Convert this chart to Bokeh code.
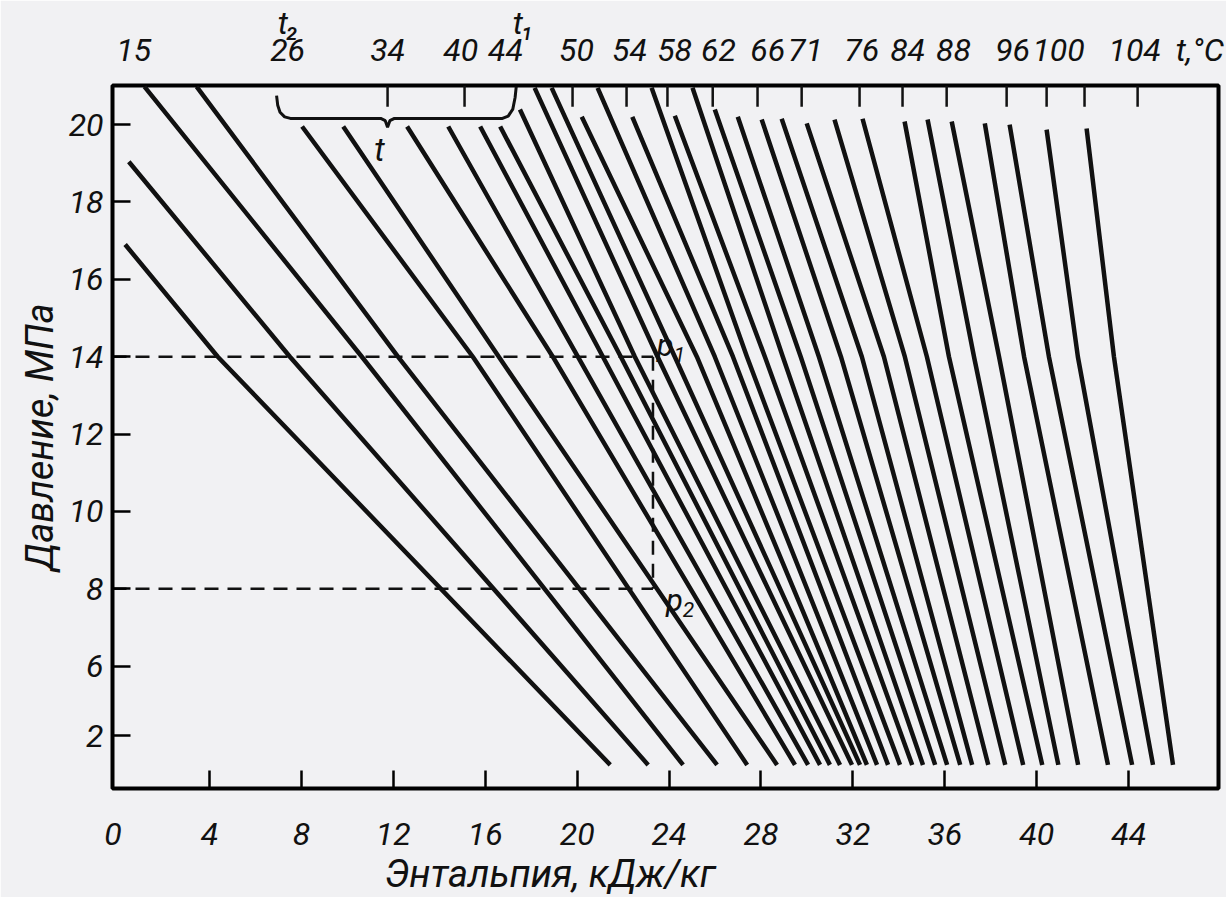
import numpy as np
from bokeh.plotting import figure
from bokeh.models import LinearAxis, FixedTicker, Label, Range1d, Title
from bokeh.embed import file_html
from bokeh.resources import INLINE

# ---------------- data ----------------
# isotherms: enthalpy (kJ/kg) at the upper end, at p = 14 MPa and at the lower end
h_top = [0.33, 0.49, 1.17, 3.44, 8.03, 9.82, 12.6, 14.39, 15.78, 16.65, 17.51,
         18.15, 18.89, 20.2, 20.89, 22.4, 23.24, 24.25, 25.02, 25.99, 26.99,
         28.03, 28.9, 29.99, 31.2, 32.42, 34.25, 35.25, 36.3, 37.74, 38.82,
         40.43, 42.17]
p_top = [16.9, 19.04, 20.98, 20.98, 19.95, 19.95, 19.95, 19.95, 19.95, 19.95,
         20.39, 20.95, 20.95, 20.2, 20.95, 20.2, 20.95, 20.23, 20.95, 20.39,
         20.2, 20.13, 20.15, 20.03, 20.13, 20.15, 20.08, 20.13, 20.08, 20.03,
         20.0, 19.87, 19.9]
h_at_14 = [4.36, 7.5, 10.63, 12.2, 15.46, 16.59, 18.94, 20.03, 21.12, 21.9,
           22.51, 23.5, 24.25, 25.21, 25.99, 26.78, 27.39, 28.17, 28.95, 29.73,
           30.52, 31.48, 32.39, 33.35, 34.26, 35.22, 36.18, 37.27, 38.36, 39.45,
           40.53, 41.79, 43.36]
h_bottom = [21.44, 23.09, 24.61, 26.09, 27.4, 28.7, 29.48, 30.05, 30.57, 31.0,
            31.44, 31.96, 32.31, 32.61, 33.05, 33.53, 34.05, 34.58, 35.05,
            35.58, 36.1, 36.67, 37.19, 37.89, 38.63, 39.41, 40.24, 40.94,
            41.8, 43.1, 44.15, 45.06, 45.93]
p_bottom = [3.45] * len(h_bottom)

# temperature scale along the top edge
temp_labels = ["15", "26", "34", "40", "44", "50", "54", "58", "62", "66",
               "71", "76", "84", "88", "96", "100", "104", "t,°C"]
temp_label_h = [0.70, 7.40, 11.75, 14.93, 16.88, 19.97, 22.28, 24.24, 26.15,
                28.29, 29.94, 32.38, 34.38, 36.38, 38.95, 40.95, 44.26, 47.1]
temp_tick_h = [11.75, 15.1, 19.8, 22.15, 23.93, 25.9, 27.85, 29.77, 32.29,
               34.16, 36.08, 38.69, 40.43, 42.08, 44.39]
t_index_labels = ["t₂", "t₁"]
t_index_h = [7.44, 17.67]

# axes
x_ticks = [-0.2, 4, 8, 12, 16, 20, 24, 28, 32, 36, 40, 44]
x_tick_text = ["0", "4", "8", "12", "16", "20", "24", "28", "32", "36", "40", "44"]
y_ticks = [4.2, 6, 8, 10, 12, 14, 16, 18, 20]
y_tick_text = ["2", "6", "8", "10", "12", "14", "16", "18", "20"]

# example state points
p1 = 14.0
p2 = 8.0
h_point = 23.3

# brace over isotherms t2..t1
brace_t2 = 6.92
brace_t1 = 17.35
brace_mid = 11.75

# ---------------- figure ----------------
X0, X1 = -0.22, 47.91
Y0, Y1 = 2.84, 21.01
BG = "#f1f1f3"
FONT = "Roboto"
INK = "#111111"
TICK_FS = "32px"

p = figure(frame_width=1106, frame_height=703,
           x_range=Range1d(X0, X1), y_range=Range1d(Y0, Y1),
           output_backend="svg", toolbar_location=None,
           min_border_left=112, min_border_top=84, min_border_right=8,
           min_border_bottom=60)
p.background_fill_color = BG
p.border_fill_color = BG
p.outline_line_color = "black"
p.outline_line_width = 4
p.grid.visible = False

# isotherm lines
xs = [[a, m, b] for a, m, b in zip(h_top, h_at_14, h_bottom)]
ys = [[a, 14.0, b] for a, b in zip(p_top, p_bottom)]
p.multi_line(xs=xs, ys=ys, line_color=INK, line_width=4.5, line_join="round")

# dashed construction lines
p.line([X0, h_point], [p1, p1], line_dash="14 9", line_width=2.5, line_color=INK)
p.line([X0, h_point], [p2, p2], line_dash="14 9", line_width=2.5, line_color=INK)
p.line([h_point, h_point], [p1, p2], line_dash="14 9", line_width=2.5, line_color=INK)

# brace
bx = [brace_t2, brace_t2 + 0.05, brace_t2 + 0.15, brace_t2 + 0.35, brace_t2 + 0.6,
      brace_mid - 0.3, brace_mid - 0.1, brace_mid, brace_mid + 0.1, brace_mid + 0.3,
      brace_t1 - 0.6, brace_t1 - 0.35, brace_t1 - 0.15, brace_t1 - 0.05, brace_t1]
by = [20.75, 20.5, 20.32, 20.2, 20.16, 20.16, 20.1, 19.93, 20.1, 20.16,
      20.16, 20.22, 20.4, 20.7, 20.98]
p.line(bx, by, line_width=3, line_color=INK)

# top tick marks of temperature scale
tick_len = 0.55
p.segment(x0=temp_tick_h, y0=[Y1] * len(temp_tick_h), x1=temp_tick_h,
          y1=[Y1 - tick_len] * len(temp_tick_h), line_width=2.5, line_color=INK)

def style_axis(ax, standoff):
    ax.axis_line_color = None
    ax.minor_tick_line_color = None
    ax.major_label_standoff = standoff
    ax.major_label_text_font = FONT
    ax.major_label_text_font_style = "italic"
    ax.major_label_text_font_size = TICK_FS
    ax.major_label_text_color = INK

# bottom axis
xa = p.xaxis[0]
xa.ticker = FixedTicker(ticks=x_ticks)
xa.major_label_overrides = {t: s for t, s in zip(x_ticks, x_tick_text)}
style_axis(xa, 34)
xa.major_tick_in = 18
xa.major_tick_out = 0
xa.major_tick_line_width = 2.5

# left axis
ya = p.yaxis[0]
ya.ticker = FixedTicker(ticks=y_ticks)
ya.major_label_overrides = {t: s for t, s in zip(y_ticks, y_tick_text)}
style_axis(ya, 9)
ya.major_tick_in = 18
ya.major_tick_out = 0
ya.major_tick_line_width = 2.5
ya.axis_label = "Давление, МПа"
ya.axis_label_text_font = FONT
ya.axis_label_text_font_style = "italic"
ya.axis_label_text_font_size = "38px"
ya.axis_label_text_color = INK
ya.axis_label_standoff = 4

# top temperature axis (labels only)
ta = LinearAxis(ticker=FixedTicker(ticks=temp_label_h),
                major_label_overrides={t: s for t, s in zip(temp_label_h, temp_labels)})
style_axis(ta, 17)
ta.major_tick_in = 0
ta.major_tick_out = 0
p.add_layout(ta, "above")

# isotherm indices t2 / t1 above the temperature scale
ti = LinearAxis(ticker=FixedTicker(ticks=t_index_h),
                major_label_overrides={t: s for t, s in zip(t_index_h, t_index_labels)})
style_axis(ti, -14)
ti.major_tick_in = 0
ti.major_tick_out = 0
p.add_layout(ti, "above")

# x axis title (sits left of centre in the original)
p.add_layout(Title(text="Энтальпия, кДж/кг", align="left", offset=272,
                   text_font=FONT, text_font_style="italic", text_font_size="38px",
                   text_color=INK, standoff=4), "below")

# text annotations inside the frame
def add_text(x, y, text, size="31px", align="center", style="italic"):
    p.add_layout(Label(x=x, y=y, text=text, text_font=FONT,
                       text_font_style=style, text_font_size=size,
                       text_align=align, text_baseline="middle",
                       text_color=INK))

def add_sub(x, y, base, sub, size=31):
    # letter with a lowered, smaller index to its right
    p.add_layout(Label(x=x, y=y, text=base, text_font=FONT, text_font_style="italic",
                       text_font_size=f"{size}px", text_align="right",
                       text_baseline="middle", text_color=INK))
    p.add_layout(Label(x=x, y=y, text=sub, text_font=FONT, text_font_style="italic",
                       text_font_size=f"{int(size * 0.7)}px", text_align="left",
                       text_baseline="middle", y_offset=-9, text_color=INK))

add_text(11.4, 19.35, "t", size="33px")
add_sub(24.2, 14.3, "p", "1")
add_sub(24.6, 7.7, "p", "2")

open("out.html", "w").write(file_html(p, INLINE))
